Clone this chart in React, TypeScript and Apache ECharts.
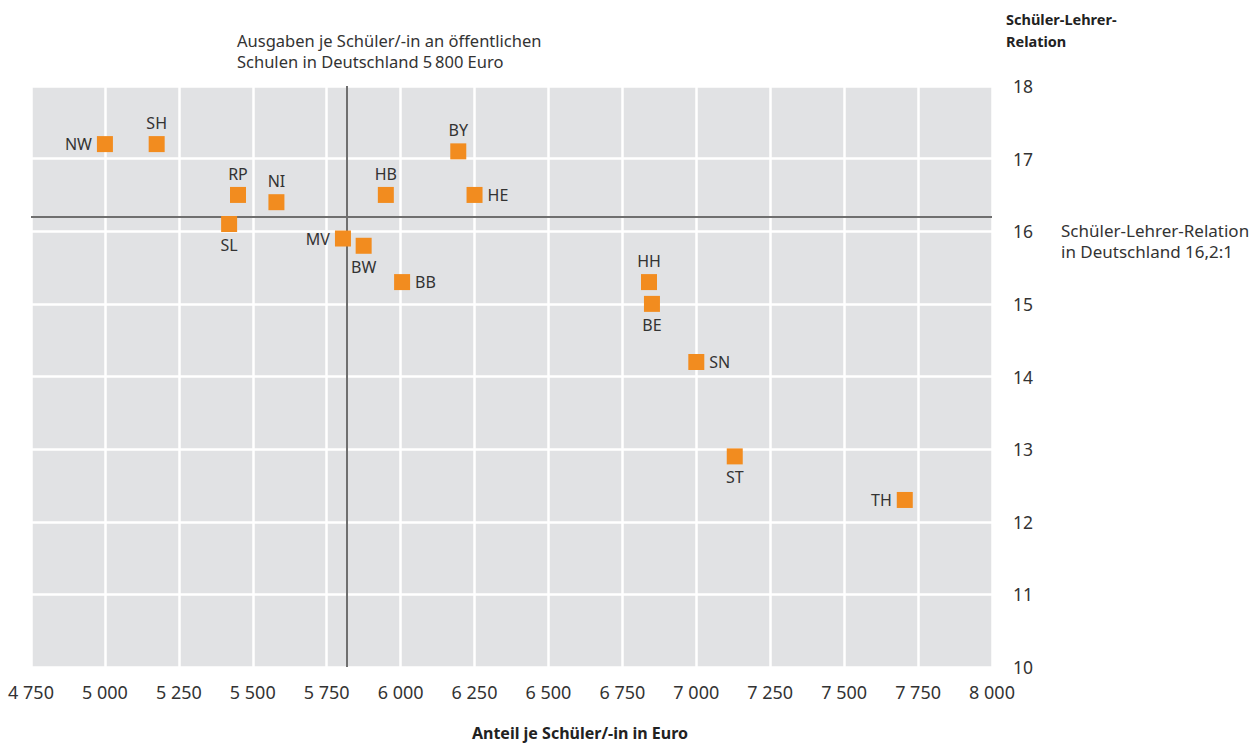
import React, { useEffect, useRef } from "react";
import * as echarts from "echarts";

const states = ["NW", "SH", "RP", "NI", "SL", "MV", "BW", "HB", "BB", "BY", "HE", "HH", "BE", "SN", "ST", "TH"];
const spending = [5000, 5175, 5450, 5580, 5420, 5805, 5875, 5950, 6005, 6195, 6250, 6840, 6850, 7000, 7130, 7705];
const ratio = [17.2, 17.2, 16.5, 16.4, 16.1, 15.9, 15.8, 16.5, 15.3, 17.1, 16.5, 15.3, 15.0, 14.2, 12.9, 12.3];
const meanSpending = 5818;
const meanRatio = 16.2;

const labelSide: Record<string, string> = {
  NW: "left", SH: "top", RP: "top", NI: "top", SL: "bottom", MV: "left", BW: "bottom", HB: "top",
  BB: "right", BY: "top", HE: "right", HH: "top", BE: "bottom", SN: "right", ST: "bottom", TH: "left",
};

const FONT = "'Noto Sans', sans-serif";

const fmt = (v: number) => String(v).replace(/\B(?=(\d{3})+(?!\d))/g, " ");

export default function App() {
  const ref = useRef<HTMLDivElement>(null);
  useEffect(() => {
    if (!ref.current) return;
    const chart = echarts.init(ref.current, undefined, { renderer: "svg" });
    const note = (text: string, x: number, y: number, size: number) => ({
      type: "text", x, y,
      style: { text, fontSize: size, fill: "#333", fontFamily: FONT, verticalAlign: "middle" },
    });
    chart.setOption({
      animation: false,
      backgroundColor: "#ffffff",
      textStyle: { fontFamily: FONT },
      grid: {
        left: 31, top: 86, width: 961, height: 581,
        show: true, backgroundColor: "#e1e2e4", borderWidth: 0,
      },
      xAxis: {
        type: "value", min: 4750, max: 8000, interval: 250,
        axisLine: { show: false }, axisTick: { show: false },
        splitLine: { show: true, lineStyle: { color: "#ffffff", width: 2.5 } },
        axisLabel: { formatter: fmt, fontSize: 18, color: "#333", margin: 16, fontFamily: FONT },
      },
      yAxis: {
        type: "value", position: "right", min: 10, max: 18, interval: 1,
        axisLine: { show: false }, axisTick: { show: false },
        splitLine: { show: true, lineStyle: { color: "#ffffff", width: 2.5 } },
        axisLabel: { fontSize: 17.5, color: "#333", margin: 21, fontFamily: FONT },
      },
      series: [
        {
          type: "scatter",
          symbol: "rect",
          symbolSize: 16,
          itemStyle: { color: "#f28c1f", opacity: 1 },
          emphasis: { disabled: true },
          z: 5,
          data: states.map((s, i) => ({
            value: [spending[i], ratio[i]],
            name: s,
            label: { position: labelSide[s] },
          })),
          label: {
            show: true, formatter: "{b}", fontSize: 16, color: "#333", distance: 5, fontFamily: FONT,
          },
          markLine: {
            silent: true, symbol: ["none", "none"], z: 3,
            label: { show: false },
            lineStyle: { color: "#6f6f6f", width: 2, type: "solid" },
            data: [{ xAxis: meanSpending }, { yAxis: meanRatio }],
          },
        },
      ],
      graphic: [
        note("Ausgaben je Schüler/-in an öffentlichen", 237, 40.5, 16.5),
        note("Schulen in Deutschland 5\u2009800 Euro", 237, 61.5, 16.5),
        note("Schüler-Lehrer-Relation", 1061, 230, 17),
        note("in Deutschland 16,2:1", 1061, 251, 17),
        {
          type: "text", left: 1006, top: 8,
          style: {
            text: "Schüler-Lehrer-\nRelation",
            fontSize: 14.5, fontWeight: "bold", lineHeight: 22, fill: "#222", fontFamily: FONT,
          },
        },
        {
          type: "text", x: 580, y: 733,
          style: {
            text: "Anteil je Schüler/-in in Euro",
            fontSize: 16, fontWeight: "bold", fill: "#222", fontFamily: FONT,
            align: "center", verticalAlign: "middle",
          },
        },
      ],
    });
    return () => chart.dispose();
  }, []);
  return (
    <div
      ref={ref}
      style={{ position: "absolute", left: 0, top: 0, width: 1257, height: 745 }}
    />
  );
}
